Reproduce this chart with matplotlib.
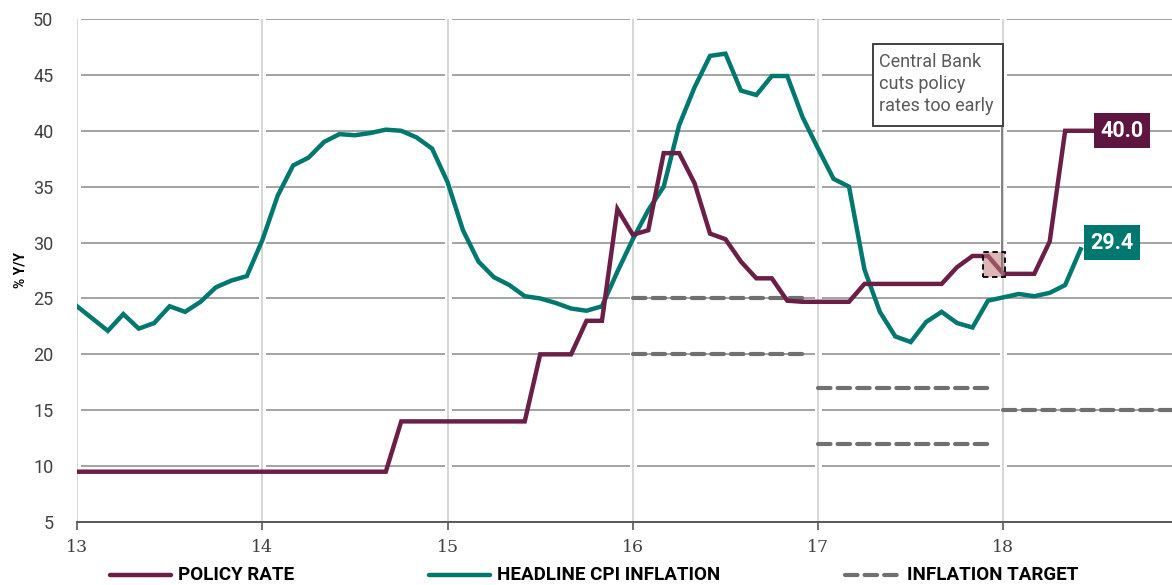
import matplotlib.pyplot as plt
import numpy as np
from matplotlib.lines import Line2D
from matplotlib.patches import Rectangle

plt.rcParams['font.family'] = ['Roboto', 'DejaVu Sans']

# Monthly observations, first point = start of year 13
cpi = [24.3, 23.2, 22.1, 23.6, 22.3, 22.8, 24.3, 23.8, 24.7, 26.0, 26.6, 27.0,
       30.2, 34.2, 36.9, 37.6, 39.0, 39.7, 39.6, 39.8, 40.1, 40.0, 39.4, 38.4,
       35.4, 31.1, 28.3, 26.9, 26.2, 25.2, 25.0, 24.6, 24.1, 23.9, 24.3, 27.4,
       30.3, 32.9, 35.0, 40.5, 43.9, 46.7, 46.9, 43.6, 43.2, 44.9, 44.9, 41.2,
       38.4, 35.7, 35.0, 27.6, 23.8, 21.6, 21.1, 22.9, 23.8, 22.8, 22.4, 24.8,
       25.1, 25.4, 25.2, 25.5, 26.2, 29.4]

policy = [9.5] * 21 + [14.0] * 9 + [20.0] * 3 + [23.0] * 2 + \
         [33.0, 30.7, 31.1, 38.0, 38.0, 35.3, 30.8, 30.3, 28.3, 26.8, 26.8, 24.8,
          24.7, 24.7, 24.7, 24.7, 26.3, 26.3, 26.3, 26.3, 26.3, 26.3, 27.8, 28.8,
          28.8, 27.2, 27.2, 27.2, 30.1, 40.0, 40.0, 40.0]

# Inflation target bands: (start, end, level)
target_start = [16.0, 16.0, 17.0, 17.0, 18.0]
target_end = [16.92, 16.92, 17.92, 17.92, 18.92]
target_level = [25, 20, 17, 12, 15]

years = [13, 14, 15, 16, 17, 18]
yticks = [5, 10, 15, 20, 25, 30, 35, 40, 45, 50]

# highlighted cut period
cut_x = [17.89, 18.01]
cut_y = [26.9, 29.15]

policy_color = '#6b1f47'
policy_box = '#5e1640'
cpi_color = '#00786f'
target_color = '#707070'

x_cpi = 13 + np.arange(len(cpi)) / 12
x_pol = 13 + np.arange(len(policy)) / 12

fig = plt.figure(figsize=(11.72, 5.85), dpi=100)
ax = fig.add_axes([77 / 1172, 63 / 585, 1 - 77 / 1172, (522 - 19) / 585])

ax.set_xlim(13, 18.91)
ax.set_ylim(5, 50)

# horizontal grid
for y in yticks:
    ax.axhline(y, color='#8a8a8a', lw=1.1, zorder=0.5)
# vertical grid with white halo
for yr in years:
    ax.axvline(yr, color='white', lw=5, zorder=0.8)
    ax.axvline(yr, color='#cfcfcf', lw=1.2, zorder=0.9)

for s in ['top', 'right', 'left']:
    ax.spines[s].set_visible(False)
ax.spines['bottom'].set_color('#595959')
ax.spines['bottom'].set_linewidth(1.4)
ax.spines['bottom'].set_zorder(3)

ax.set_xticks(years)
ax.set_xticklabels([str(y) for y in years], family='DejaVu Serif', fontsize=12.5,
                   color='#404040')
ax.tick_params(axis='x', length=6, width=1.2, color='#595959', pad=6)
ax.set_yticks(yticks)
ax.set_yticklabels([str(y) for y in yticks], fontsize=13, color='#404040')
ax.tick_params(axis='y', length=0, pad=17)
ax.set_ylabel('% Y/Y', fontsize=10, fontweight='bold', labelpad=4)

for xs, xe, lv in zip(target_start, target_end, target_level):
    ax.plot([xs, xe], [lv, lv], color=target_color, lw=3, dashes=(3, 1.7),
            dash_capstyle='round', zorder=2)

ax.plot(x_cpi, cpi, color=cpi_color, lw=3.2, zorder=3, solid_joinstyle='miter')
ax.plot(x_pol, policy, color=policy_color, lw=3.2, zorder=4, solid_joinstyle='miter')

# highlighted rate cut
ax.add_patch(Rectangle((cut_x[0], cut_y[0]), cut_x[1] - cut_x[0], cut_y[1] - cut_y[0],
                       facecolor='#c47a7a', alpha=0.55, edgecolor='none', zorder=5))
ax.add_patch(Rectangle((cut_x[0], cut_y[0]), cut_x[1] - cut_x[0], cut_y[1] - cut_y[0],
                       facecolor='none', edgecolor='black', lw=1.3, ls=(0, (3, 2)), zorder=6))

# callout box
ax.add_patch(Rectangle((17.296, 40.4), 18.0 - 17.296, 47.75 - 40.4, facecolor='white',
                       edgecolor='#404040', lw=1.4, zorder=6))
ax.plot([17.995, 17.995], [40.4, cut_y[0]], color='#7a7a7a', lw=1.3, zorder=5)
ax.text(17.33, 47.0, 'Central Bank\ncuts policy\nrates too early', fontsize=13,
        color='#595959', va='top', ha='left', linespacing=1.3, zorder=7)

# end-value labels
ax.text(x_pol[-1] + 0.14, policy[-1], f'{policy[-1]:.1f}', fontsize=15.5, fontweight='bold',
        color='white', ha='center', va='center', zorder=8,
        bbox=dict(boxstyle='square,pad=0.3', fc=policy_box, ec='none'))
ax.text(x_cpi[-1] + 0.17, cpi[-1] + 0.6, f'{cpi[-1]:.1f}', fontsize=15.5, fontweight='bold',
        color='white', ha='center', va='center', zorder=8,
        bbox=dict(boxstyle='square,pad=0.3', fc=cpi_color, ec='none'))

# legend row
ly = 1 - 575 / 585
fig.add_artist(Line2D([110 / 1172, 171 / 1172], [ly, ly], color=policy_color, lw=3.2,
                      solid_capstyle='round'))
fig.text(178 / 1172, ly, 'POLICY RATE', fontsize=13.5, fontweight='bold', va='center')
fig.add_artist(Line2D([429 / 1172, 490 / 1172], [ly, ly], color=cpi_color, lw=3.2,
                      solid_capstyle='round'))
fig.text(497 / 1172, ly, 'HEADLINE CPI INFLATION', fontsize=13.5, fontweight='bold',
         va='center')
fig.add_artist(Line2D([845 / 1172, 900 / 1172], [ly, ly], color=target_color, lw=3,
                      dashes=(3, 1.7), dash_capstyle='round'))
fig.text(907 / 1172, ly, 'INFLATION TARGET', fontsize=13.5, fontweight='bold', va='center')

fig.savefig('out.png', dpi=100)
